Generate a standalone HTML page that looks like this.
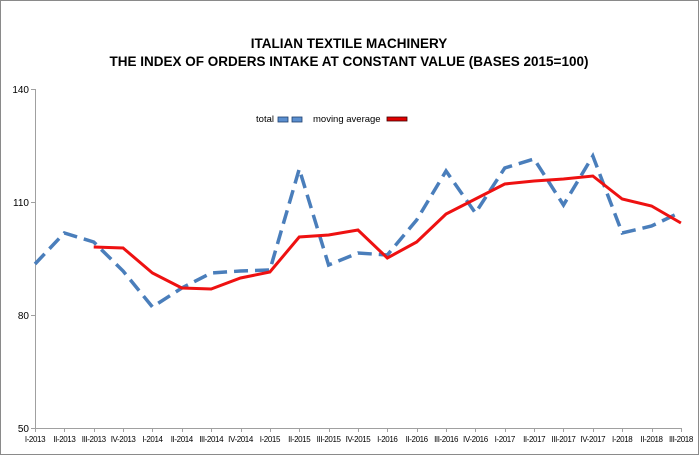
<!DOCTYPE html>
<html><head><style>
body{margin:0;background:#fff}
svg{display:block}
text{font-family:"Liberation Sans",sans-serif}
</style></head><body>
<svg width="699" height="455" xmlns="http://www.w3.org/2000/svg">
<rect x="0.5" y="0.5" width="698" height="454" fill="#fff" stroke="#8a8a8a"/>
<text x="349" y="48" text-anchor="middle" font-size="13.5" font-weight="bold">ITALIAN TEXTILE MACHINERY</text>
<text x="349" y="66" text-anchor="middle" font-size="13.5" font-weight="bold">THE INDEX OF ORDERS INTAKE AT CONSTANT VALUE (BASES 2015=100)</text>
<g stroke="#a0a0a0" stroke-width="1">
<line x1="35.5" y1="89" x2="35.5" y2="428"/>
<line x1="35" y1="428.5" x2="682" y2="428.5"/>
<line x1="31" y1="89.5" x2="35" y2="89.5"/>
<line x1="31" y1="202.5" x2="35" y2="202.5"/>
<line x1="31" y1="315.5" x2="35" y2="315.5"/>
<line x1="31" y1="428.5" x2="35" y2="428.5"/>
</g>
<g font-size="10" text-anchor="end">
<text x="29" y="93">140</text><text x="29" y="206">110</text><text x="29" y="319">80</text><text x="29" y="432">50</text>
</g>
<g id="xt" font-size="8" text-anchor="middle" letter-spacing="-0.4"></g>
<text x="274" y="122" font-size="9.5" text-anchor="end">total</text>
<rect x="278" y="117" width="10" height="5" fill="#5b8fcf" stroke="#1f3f6f" stroke-width="0.8"/>
<rect x="292" y="117" width="10" height="5" fill="#5b8fcf" stroke="#1f3f6f" stroke-width="0.8"/>
<text x="313" y="122" font-size="9.5">moving average</text>
<rect x="387" y="117" width="20" height="4" fill="#e00000" stroke="#400000" stroke-width="0.8"/>
<polyline id="blue" fill="none" stroke="#4a7ebb" stroke-width="3.5" stroke-dasharray="14,7"/>
<polyline id="red" fill="none" stroke="#ee1111" stroke-width="3"/>
</svg>
<script>
var labs=["I-2013","II-2013","III-2013","IV-2013","I-2014","II-2014","III-2014","IV-2014","I-2015","II-2015","III-2015","IV-2015","I-2016","II-2016","III-2016","IV-2016","I-2017","II-2017","III-2017","IV-2017","I-2018","II-2018","III-2018"];
var X=function(i){return 35+i*29.36};
var b=[264,233,242,271,307,288,273,271,270,169,265,253,255,220,171,213,168,159,205,156,233,226,212];
var r=[null,null,247,248,273,288,289,278,272,237,235,230,258,242,214,199,184,181,179,176,199,206,223];
var ns="http://www.w3.org/2000/svg",g=document.getElementById("xt"),svg=document.querySelector("svg");
labs.forEach(function(l,i){var t=document.createElementNS(ns,"text");t.setAttribute("x",X(i));t.setAttribute("y",442);t.textContent=l;g.appendChild(t);
var k=document.createElementNS(ns,"line");k.setAttribute("x1",Math.round(X(i))+.5);k.setAttribute("x2",Math.round(X(i))+.5);k.setAttribute("y1",428);k.setAttribute("y2",432);k.setAttribute("stroke","#a0a0a0");svg.insertBefore(k,g);});
document.getElementById("blue").setAttribute("points",b.map(function(v,i){return X(i)+","+v}).join(" "));
document.getElementById("red").setAttribute("points",r.map(function(v,i){return v==null?"":X(i)+","+v}).join(" ").trim());
</script>
</body></html>
